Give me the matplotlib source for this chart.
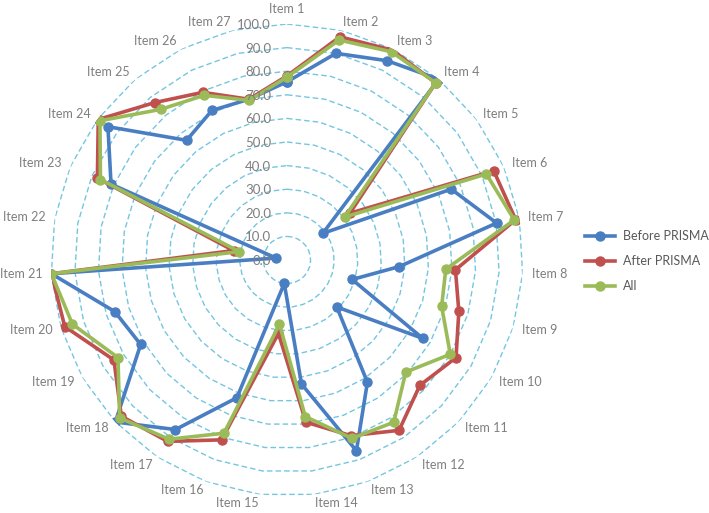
import numpy as np
import matplotlib
matplotlib.use("Agg")
import matplotlib.pyplot as plt
import matplotlib.transforms as mtransforms

items = ["Item 1", "Item 2", "Item 3", "Item 4", "Item 5", "Item 6", "Item 7", "Item 8", "Item 9",
         "Item 10", "Item 11", "Item 12", "Item 13", "Item 14", "Item 15", "Item 16", "Item 17",
         "Item 18", "Item 19", "Item 20", "Item 21", "Item 22", "Item 23", "Item 24", "Item 25",
         "Item 26", "Item 27"]
before = [75.5, 90.0, 94.5, 100.0, 18.9, 75.8, 90.2, 47.7, 28.8, 66.5, 29.0, 62.0, 86.0, 52.9,
          10.0, 62.1, 86.0, 100.0, 71.6, 76.2, 100.0, 4.7, 81.2, 94.6, 66.2, 70.9, 70.0]
after = [78.0, 97.2, 99.5, 98.0, 33.2, 95.4, 98.4, 71.5, 76.0, 82.7, 77.4, 86.4, 79.2, 69.2,
         31.3, 81.1, 92.0, 96.5, 84.7, 98.3, 100.0, 23.0, 87.5, 99.7, 87.1, 79.5, 70.0]
all_ = [77.5, 95.8, 98.7, 98.0, 30.5, 92.0, 97.8, 67.4, 68.4, 79.9, 69.2, 82.3, 80.4, 66.8,
        27.4, 78.1, 90.9, 97.5, 82.7, 94.9, 100.0, 20.5, 86.1, 98.8, 83.3, 78.1, 69.5]
series_names = ["Before PRISMA", "After PRISMA", "All"]
ticks = [0, 10, 20, 30, 40, 50, 60, 70, 80, 90, 100]

plt.rcParams['font.family'] = ['Lato', 'DejaVu Sans']
W, H = 709, 513
fig = plt.figure(figsize=(W / 100, H / 100), dpi=100)
cx, cy, R = 287, 260, 236
ax = fig.add_axes([(cx - R) / W, (H - cy - R) / H, 2 * R / W, 2 * R / H], projection='polar')
ax.set_theta_zero_location('N')
ax.set_theta_direction(-1)
ax.set_ylim(0, 100)
ax.grid(False)
ax.set_xticks([])
ax.set_yticks([])
ax.spines['polar'].set_visible(False)
ax.patch.set_alpha(0)

n = len(items)
theta = np.arange(n) * 2 * np.pi / n
theta_c = np.append(theta, theta[0])

grid_color = '#74C6E0'
for t in ticks[1:]:
    ax.plot(theta_c, [t] * (n + 1), color=grid_color, lw=1.0, ls=(0, (4, 2.2)), zorder=1)

colors = ['#4A7EC2', '#C0504D', '#9BBB59']
for vals, name, c in zip([before, after, all_], series_names, colors):
    v = np.append(vals, vals[0])
    ax.plot(theta_c, v, color=c, lw=2.6, marker='o', ms=6.5, label=name, zorder=3,
            solid_joinstyle='round')

# radial tick labels
off = mtransforms.offset_copy(ax.transData, fig=fig, x=-16, y=-1, units='dots')
for t in ticks:
    ax.text(0, t, f"{t:.1f}", transform=off, ha='right', va='center', fontsize=9.5,
            color='#7F7F7F', zorder=4)

# category labels
for th, lab in zip(theta, items):
    s, c = np.sin(th), np.cos(th)
    if abs(s) < 0.05:
        ha = 'center'
    elif s > 0:
        ha = 'left'
    else:
        ha = 'right'
    va = 'center'
    if c > 0.99:
        va = 'bottom'
    ax.text(th, 103.8, lab, ha=ha, va=va, fontsize=9, color='#7F7F7F', clip_on=False)

leg = fig.legend(loc='center left', bbox_to_anchor=(574 / W, 1 - 261 / H), frameon=False,
                 fontsize=9, handlelength=2.4, labelspacing=1.05, handletextpad=0.6)
for t in leg.get_texts():
    t.set_color('#595959')

fig.savefig('out.png', dpi=100)
